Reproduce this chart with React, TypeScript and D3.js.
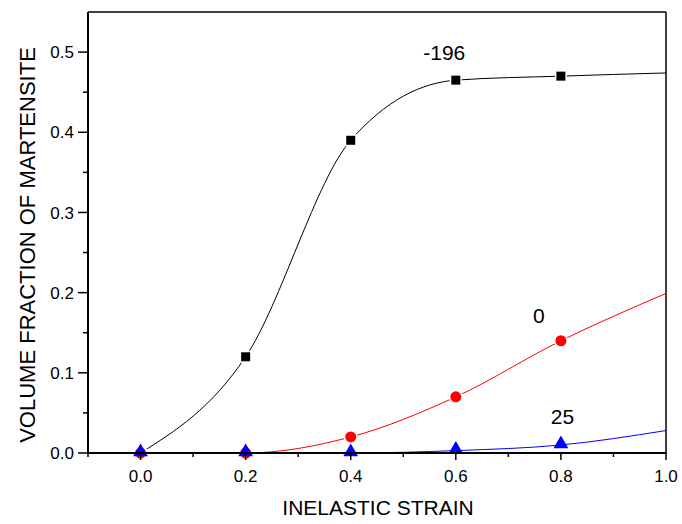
import React, { useEffect, useRef } from "react";
import * as d3 from "d3";

const strain = [0.0, 0.2, 0.4, 0.6, 0.8, 1.0];
const curveM196 = [0.0, 0.12, 0.39, 0.465, 0.47, 0.474];
const curve0 = [0.0, 0.0, 0.02, 0.07, 0.14, 0.199];
const curve25 = [0.0, 0.0, 0.0, 0.003, 0.01, 0.028];
const xTicks = [0.0, 0.2, 0.4, 0.6, 0.8, 1.0];
const yTicks = [0.0, 0.1, 0.2, 0.3, 0.4, 0.5];

const series = [
  { name: "-196", values: curveM196, color: "#000000", shape: "square", lx: 0.578, ly: 0.5 },
  { name: "0", values: curve0, color: "#ff0000", shape: "circle", lx: 0.758, ly: 0.172 },
  { name: "25", values: curve25, color: "#0000ff", shape: "triangle", lx: 0.803, ly: 0.045 },
];

const FONT = "'Liberation Sans', Arial, sans-serif";

export default function App() {
  const ref = useRef<SVGSVGElement>(null);

  useEffect(() => {
    const svg = d3.select(ref.current);
    svg.selectAll("*").remove();

    const left = 88, right = 666, top = 12, bottom = 453;
    const x = d3.scaleLinear().domain([-0.1, 1.0]).range([left, right]);
    const y = d3.scaleLinear().domain([0, 0.55]).range([bottom, top]);

    // frame (top/right thinner)
    svg.append("line").attr("x1", left).attr("x2", right).attr("y1", top).attr("y2", top)
      .attr("stroke", "#000").attr("stroke-width", 1.5);
    svg.append("line").attr("x1", right).attr("x2", right).attr("y1", top).attr("y2", bottom)
      .attr("stroke", "#000").attr("stroke-width", 1.5);

    // curves
    const line = d3.line<number>()
      .x((d, i) => x(strain[i]))
      .y((d) => y(d))
      .curve(d3.curveMonotoneX);

    series.forEach((s) => {
      svg.append("path")
        .datum(s.values)
        .attr("fill", "none")
        .attr("stroke", s.color)
        .attr("stroke-width", 1)
        .attr("d", line);
    });

    // markers with small white gap around them
    const sym = (shape: string) =>
      shape === "square" ? d3.symbolSquare : shape === "circle" ? d3.symbolCircle : d3.symbolTriangle;
    const size = (shape: string) => (shape === "square" ? 81 : shape === "circle" ? 95 : 95);

    series.forEach((s) => {
      const g = svg.append("g");
      const pts = s.values.slice(0, 5).map((v, i) => [strain[i], v]);
      g.selectAll("path.gap")
        .data(pts)
        .enter()
        .append("path")
        .attr("transform", (d) => `translate(${x(d[0])},${y(d[1]) - (s.shape === "triangle" ? 1 : 0)})`)
        .attr("d", d3.symbol().type(sym(s.shape)).size(size(s.shape))())
        .attr("fill", s.color)
        .attr("stroke", "#fff")
        .attr("stroke-width", s.shape === "triangle" ? 0 : 3)
        .attr("paint-order", "stroke");
    });

    // axis lines on top of curves
    svg.append("line").attr("x1", left).attr("x2", left).attr("y1", top).attr("y2", bottom + 1)
      .attr("stroke", "#000").attr("stroke-width", 2);
    svg.append("line").attr("x1", left - 1).attr("x2", right + 1).attr("y1", bottom).attr("y2", bottom)
      .attr("stroke", "#000").attr("stroke-width", 2);

    // y ticks
    const yMinor = d3.range(0.05, 0.55, 0.1);
    svg.append("g").selectAll("line").data(yTicks).enter().append("line")
      .attr("x1", left - 10).attr("x2", left).attr("y1", (d) => y(d)).attr("y2", (d) => y(d))
      .attr("stroke", "#000").attr("stroke-width", 1.5);
    svg.append("g").selectAll("line").data(yMinor).enter().append("line")
      .attr("x1", left - 5).attr("x2", left).attr("y1", (d) => y(d)).attr("y2", (d) => y(d))
      .attr("stroke", "#000").attr("stroke-width", 1.5);
    svg.append("g").selectAll("text").data(yTicks).enter().append("text")
      .attr("x", left - 14).attr("y", (d) => y(d)).attr("dy", "0.36em")
      .attr("text-anchor", "end").style("font-family", FONT).style("font-size", "17px")
      .text((d) => d3.format(".1f")(d));

    // x ticks
    const xMinor = [-0.1, 0.1, 0.3, 0.5, 0.7, 0.9];
    svg.append("g").selectAll("line").data(xTicks).enter().append("line")
      .attr("x1", (d) => x(d)).attr("x2", (d) => x(d)).attr("y1", bottom).attr("y2", bottom + 7)
      .attr("stroke", "#000").attr("stroke-width", 1.5);
    svg.append("g").selectAll("line").data(xMinor).enter().append("line")
      .attr("x1", (d) => x(d)).attr("x2", (d) => x(d)).attr("y1", bottom).attr("y2", bottom + 4)
      .attr("stroke", "#000").attr("stroke-width", 1.5);
    svg.append("g").selectAll("text").data(xTicks).enter().append("text")
      .attr("x", (d) => x(d)).attr("y", 482)
      .attr("text-anchor", "middle").style("font-family", FONT).style("font-size", "17px")
      .text((d) => d3.format(".1f")(d));

    // series labels
    series.forEach((s) => {
      svg.append("text")
        .attr("x", x(s.lx)).attr("y", y(s.ly))
        .attr("text-anchor", "middle").attr("dy", "0.36em")
        .style("font-family", FONT).style("font-size", "21px")
        .text(s.name);
    });

    // axis titles
    svg.append("text")
      .attr("x", 378).attr("y", 515)
      .attr("text-anchor", "middle").style("font-family", FONT).style("font-size", "21px")
      .text("INELASTIC STRAIN");
    svg.append("text")
      .attr("transform", "translate(35,245) rotate(-90)")
      .attr("text-anchor", "middle").style("font-family", FONT).style("font-size", "22px")
      .text("VOLUME FRACTION OF MARTENSITE");
  }, []);

  return (
    <svg ref={ref} width={682} height={524}
      style={{ position: "absolute", left: 0, top: 0, background: "#fff" }} />
  );
}
